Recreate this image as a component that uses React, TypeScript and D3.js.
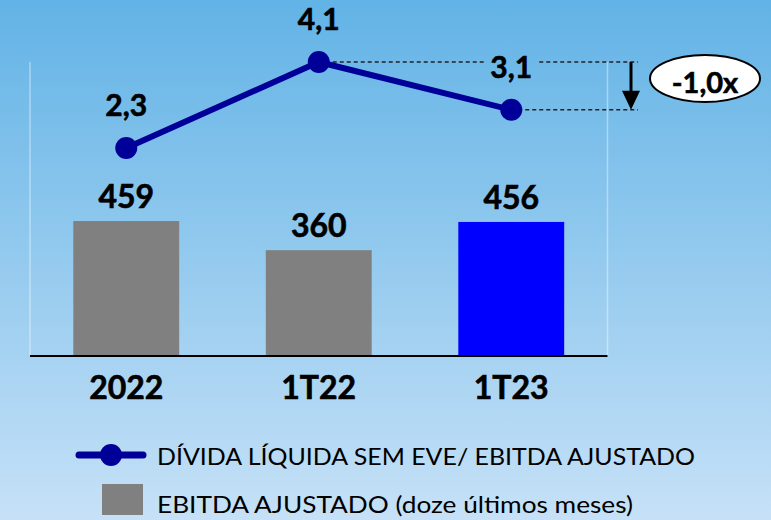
import React from "react";
import * as d3 from "d3";

const categories = ["2022", "1T22", "1T23"];
const ebitdaValues = [459, 360, 456];
const ebitdaLabels = ["459", "360", "456"];
const ratioValues = [2.3, 4.1, 3.1];
const ratioLabels = ["2,3", "4,1", "3,1"];
const barColors = ["#808080", "#808080", "#0000ff"];
const legendLine = "DÍVIDA LÍQUIDA SEM EVE/ EBITDA AJUSTADO";
const legendBar = "EBITDA AJUSTADO (doze últimos meses)";
const deltaLabel = "-1,0x";

const W = 771;
const H = 520;
const FONT = "Lato, 'Noto Sans', sans-serif";

export default function App() {
  const left = 30, right = 607.5, top = 62, bottom = 356;
  const x = d3.scaleBand<string>().domain(categories).range([left, right]).padding(0);
  const barW = x.bandwidth() * 0.55;
  const cx = (c: string) => (x(c) as number) + x.bandwidth() / 2;
  const yBar = d3.scaleLinear().domain([0, 1000]).range([bottom, top]);
  const yLine = d3.scaleLinear().domain([-2.05, 4.1]).range([bottom, top]);
  const line = d3
    .line<number>()
    .x((_, i) => cx(categories[i]))
    .y((d) => yLine(d));

  const p1x = cx(categories[1]);
  const p1y = yLine(ratioValues[1]);
  const p2x = cx(categories[2]);
  const p2y = yLine(ratioValues[2]);
  const dashEnd = 638;
  const arrowX = 631;
  const gapL = p2x - 27, gapR = p2x + 28;

  const bold = {
    fontFamily: FONT,
    fontWeight: 700,
    fill: "#000",
    stroke: "#000",
    strokeWidth: 0.6,
  } as const;

  return (
    <svg width={W} height={H} style={{ display: "block", position: "absolute", left: 0, top: 0 }}>
      <defs>
        <linearGradient id="bg" x1="0" y1="0" x2="0" y2="1">
          <stop offset="0" stopColor="#62b3e6" />
          <stop offset="1" stopColor="#c6e1f7" />
        </linearGradient>
      </defs>
      <rect x={0} y={0} width={W} height={H} fill="url(#bg)" />
      {/* plot frame verticals */}
      <line x1={left} x2={left} y1={top} y2={bottom} stroke="#ffffff" strokeOpacity={0.4} strokeWidth={1.5} />
      <line x1={right} x2={right} y1={top} y2={bottom} stroke="#ffffff" strokeOpacity={0.4} strokeWidth={1.5} />
      {/* bars */}
      {categories.map((c, i) => (
        <rect
          key={c}
          x={cx(c) - barW / 2}
          y={yBar(ebitdaValues[i])}
          width={barW}
          height={bottom - yBar(ebitdaValues[i])}
          fill={barColors[i]}
        />
      ))}
      {categories.map((c, i) => (
        <text key={c + "v"} x={cx(c)} y={yBar(ebitdaValues[i]) - 13} textAnchor="middle" fontSize={32} {...bold}>
          {ebitdaLabels[i]}
        </text>
      ))}
      {/* baseline */}
      <line x1={left} x2={right} y1={bottom} y2={bottom} stroke="#000" strokeWidth={2} />
      {categories.map((c) => (
        <text key={c + "c"} x={cx(c)} y={399} textAnchor="middle" fontSize={32} {...bold}>
          {c}
        </text>
      ))}
      {/* dashed annotation lines */}
      <line x1={p1x} x2={gapL} y1={p1y} y2={p1y} stroke="#222" strokeWidth={1.5} strokeDasharray="4 3" />
      <line x1={gapR} x2={dashEnd} y1={p1y} y2={p1y} stroke="#222" strokeWidth={1.5} strokeDasharray="4 3" />
      <line x1={p2x} x2={dashEnd} y1={p2y} y2={p2y} stroke="#222" strokeWidth={1.5} strokeDasharray="4 3" />
      {/* line series */}
      <path d={line(ratioValues) || ""} fill="none" stroke="#000099" strokeWidth={6} strokeLinejoin="round" />
      {categories.map((c, i) => (
        <circle key={c + "m"} cx={cx(c)} cy={yLine(ratioValues[i])} r={11} fill="#000099" />
      ))}
      {categories.map((c, i) => (
        <text key={c + "l"} x={cx(c)} y={yLine(ratioValues[i]) - 32} textAnchor="middle" fontSize={30} {...bold}>
          {ratioLabels[i]}
        </text>
      ))}
      {/* arrow */}
      <line x1={arrowX} x2={arrowX} y1={p1y} y2={p2y - 16} stroke="#000" strokeWidth={3} />
      <path d={`M${arrowX - 9},${p2y - 19} L${arrowX + 9},${p2y - 19} L${arrowX},${p2y} Z`} fill="#000" />
      {/* ellipse badge */}
      <ellipse cx={705} cy={78.5} rx={55} ry={23.5} fill="#fff" stroke="#000" strokeWidth={2} />
      <text x={705} y={93} textAnchor="middle" fontSize={29} {...bold}>
        {deltaLabel}
      </text>
      {/* legend */}
      <line x1={79} x2={143} y1={455} y2={455} stroke="#000099" strokeWidth={7} strokeLinecap="round" />
      <circle cx={111} cy={455} r={11} fill="#000099" />
      <text x={157} y={465} fontFamily={FONT} fontSize={24} fill="#000" textLength={538} lengthAdjust="spacingAndGlyphs">
        {legendLine}
      </text>
      <rect x={102} y={484} width={41} height={31} fill="#808080" />
      <text x={157} y={513} fontFamily={FONT} fontSize={24} fill="#000" textLength={476} lengthAdjust="spacingAndGlyphs">
        {legendBar}
      </text>
    </svg>
  );
}
